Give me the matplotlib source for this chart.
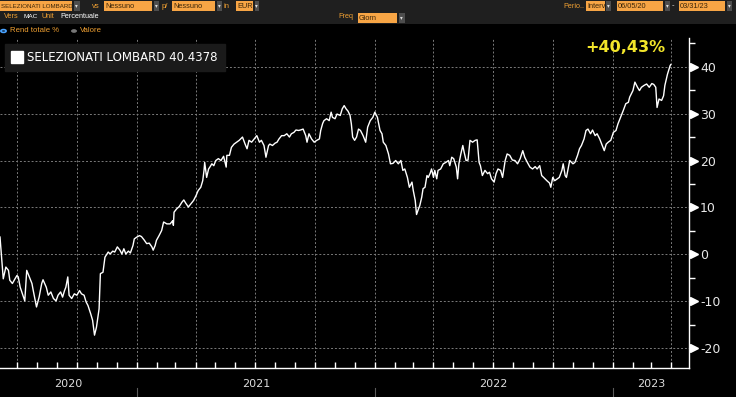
import numpy as np
import pandas as pd
import matplotlib
matplotlib.use("Agg")
import matplotlib.pyplot as plt
import matplotlib.dates as mdates
from matplotlib.patches import Rectangle, Circle
from matplotlib.lines import Line2D
from matplotlib.transforms import offset_copy

# serie: rendimento totale % SELEZIONATI LOMBARD, dal 06/05/20 al 03/31/23
start = pd.Timestamp("2020-06-05")
days = [0, 5, 9, 13, 15, 19, 23, 26, 28, 31, 35, 38, 41, 45, 49, 51, 54, 56, 60, 64,
        66, 71, 74, 78, 82, 86, 89, 93, 96, 99, 101, 104, 106, 110, 114, 118, 122, 125, 129, 132,
        135, 139, 142, 145, 148, 152, 154, 158,
        161, 166, 169, 173, 176, 180, 184, 187, 190, 193, 197, 200, 204, 206, 210, 214, 217, 221, 225, 229,
        233, 235, 238, 240, 244, 248, 251, 256, 261, 265, 266, 267, 271, 275, 279, 282, 285, 289, 293, 297,
        301, 304, 308, 311, 313, 314, 317, 320, 322, 325, 328, 331, 335, 339, 343, 347, 348, 352, 355, 359,
        363, 367,
        372, 376, 379, 382, 386, 390, 394, 398, 401, 405, 408, 412, 414, 418, 422, 425, 428, 432, 436, 440,
        444, 447, 451, 454, 458, 461, 465, 469, 471, 474, 478, 482, 486, 490, 492, 495, 497, 501, 505, 508,
        510, 514, 517, 522, 525, 528, 531, 534, 537, 539, 541, 544, 547, 550, 553, 557, 561, 564, 568, 572,
        575, 579,
        580, 583, 586, 588, 592, 596, 599, 603, 607, 611, 615, 618, 621, 625, 628, 632, 634, 637, 639, 642,
        644, 647, 649, 652, 655, 657, 660, 662, 665, 667, 670, 672, 676, 680, 684, 688, 690, 693, 696, 700,
        702, 704, 707, 710, 712, 715, 718, 721, 725, 729, 732, 735, 737, 740, 744, 748, 751, 754, 758, 761,
        764, 768, 771, 775, 778, 782, 786, 790, 794, 798,
        802, 805, 809, 813, 817, 821, 824, 828, 831, 834, 839, 843, 845, 848, 851, 855, 858, 862, 864, 867,
        869, 872, 874, 879, 882, 886, 889, 892, 896, 899, 902, 906, 909, 913, 916, 920, 923, 927, 930, 933,
        937, 941, 945, 948, 952, 956, 960, 964, 966, 971, 974, 978, 981, 984, 988, 992, 996, 1000, 1003, 1006,
        1008, 1011, 1015, 1018, 1020, 1024, 1028, 1029]
rend = [3.7, -5.2, -2.7, -3.4, -5.5, -6.2, -5.2, -4.5, -4.8, -7.0, -8.7, -9.9, -3.4, -4.8, -6.2, -7.7, -9.8, -11.2, -9.1, -6.2,
        -5.4, -7.0, -8.7, -8.0, -9.4, -9.9, -8.7, -8.0, -9.1, -7.7, -7.0, -4.8, -8.7, -9.4, -8.4, -8.7, -7.7, -8.4, -8.7, -10.1,
        -10.9, -12.6, -14.0, -17.2, -15.5, -11.6, -4.1, -3.8,
        -0.6, 0.5, 0.1, 0.7, 0.5, 1.6, 0.9, 0.1, 1.2, 0.1, 0.7, 0.3, 1.9, 3.3, 3.7, 4.0, 3.8, 3.1, 2.3, 2.4,
        1.6, 0.9, 1.9, 3.0, 4.0, 5.1, 6.9, 6.5, 6.5, 7.2, 6.2, 9.0, 9.7, 10.2, 11.1, 11.6, 10.9, 10.1, 10.8, 11.5,
        12.6, 13.6, 14.3, 15.7, 17.9, 19.6, 16.4, 18.2, 18.6, 19.3, 18.9, 20.0, 20.4, 20.0, 20.9, 18.6, 21.1, 21.1, 22.8, 23.5,
        23.9, 24.3,
        25.0, 23.5, 22.5, 24.3, 23.9, 24.6, 25.3, 23.9, 24.3, 23.2, 20.7, 23.2, 23.5, 23.2, 23.7, 23.9, 24.6, 25.3, 25.3, 25.7,
        25.0, 25.7, 26.0, 26.5, 26.4, 26.5, 26.7, 25.3, 23.9, 25.7, 24.6, 23.9, 24.3, 24.6, 26.4, 27.9, 28.5, 28.9, 28.5, 30.3,
        29.2, 28.9, 29.9, 29.6, 31.0, 31.7, 31.0, 30.5, 29.6, 27.8, 25.0, 24.3, 25.0, 26.7, 26.4, 25.3, 23.9, 27.1, 28.5, 29.2,
        30.3, 29.2,
        28.5, 26.4, 25.7, 23.9, 23.2, 21.4, 19.3, 19.4, 20.0, 19.3, 20.0, 17.9, 18.2, 16.4, 14.3, 15.4, 13.6, 11.5, 8.5, 9.7,
        10.4, 12.2, 14.0, 14.3, 16.8, 16.4, 17.3, 18.2, 16.4, 17.9, 16.1, 17.9, 18.2, 19.3, 19.6, 20.0, 18.9, 20.7, 20.4, 18.6,
        16.1, 19.3, 21.4, 23.2, 21.8, 20.0, 20.1, 24.3, 23.9, 24.3, 24.4, 19.6, 18.9, 16.8, 17.9, 17.2, 17.5, 16.1, 15.4, 17.2,
        18.2, 17.9, 16.4, 20.0, 21.4, 21.1, 20.1, 20.0, 19.3, 20.4,
        22.1, 20.7, 19.6, 18.6, 18.2, 18.7, 18.2, 18.9, 16.8, 16.4, 15.7, 15.2, 14.3, 16.4, 15.7, 16.1, 16.4, 17.9, 19.3, 16.8,
        16.4, 18.6, 20.0, 19.3, 19.6, 21.1, 22.5, 23.2, 24.6, 26.4, 26.7, 25.7, 26.5, 25.3, 25.7, 24.6, 23.5, 22.1, 23.5, 23.9,
        24.3, 26.0, 26.4, 27.8, 29.2, 30.6, 32.1, 32.4, 33.5, 34.9, 36.7, 35.6, 34.9, 35.6, 36.0, 36.3, 35.6, 36.4, 36.2, 35.6,
        31.3, 33.1, 32.8, 33.8, 36.0, 38.4, 40.2, 40.4378]

serie_nome = "SELEZIONATI LOMBARD"
ultimo = "40.4378"
etichetta = "+40,43%"
anni = [2020, 2021, 2022, 2023]
y_major = [-20, -10, 0, 10, 20, 30, 40]
y_minor = [-15, -5, 5, 15, 25, 35, 45]

dates = start + pd.to_timedelta(days, unit="D")
fine_asse = pd.Timestamp("2023-04-28")

W, H = 736, 397
ORANGE = "#f7a545"
AMBER = "#f0a032"
INK = "#3a2508"
NARROW = ["Liberation Sans Narrow", "Liberation Sans", "DejaVu Sans"]
plt.rcParams["axes.unicode_minus"] = False

fig = plt.figure(figsize=(W / 100, H / 100), dpi=100, facecolor="black")


def box(x0, y0, x1, y1, color):
    r = Rectangle((x0 / W, 1 - y1 / H), (x1 - x0) / W, (y1 - y0) / H,
                  transform=fig.transFigure, color=color, lw=0)
    fig.add_artist(r)
    return r


def scritta(x, y, s, color, size=5.6, clip=None, **kw):
    t = fig.text(x / W, 1 - y / H, s, color=color, fontsize=size, va="center", ha="left",
                 family=NARROW, **kw)
    if clip is not None:
        t.set_clip_path(clip)
    return t


def campo(x0, y0, x1, y1, s, size=5.3):
    r = box(x0, y0, x1, y1, ORANGE)
    scritta(x0 + 1, (y0 + y1) / 2 + 0.5, s, INK, size=size, clip=r)


def tendina(x0, y0, x1, y1):
    box(x0, y0, x1, y1, "#4d4d4d")
    scritta((x0 + x1) / 2 - 1.6, (y0 + y1) / 2, "▾", "#dddddd", size=4)


# barra comandi in alto
box(0, 0, W, 24, "#1f1f1f")
campo(0, 1, 72, 11, "SELEZIONATI LOMBARD", size=4.4)
tendina(74, 1, 80, 11)
scritta(92, 6, "vs", AMBER)
campo(104, 1, 152, 11, "Nessuno")
tendina(154, 1, 159, 11)
scritta(162, 6, "p/", AMBER)
campo(172, 1, 215, 11, "Nessuno")
tendina(217, 1, 222, 11)
scritta(224, 6, "in", AMBER)
campo(236, 1, 253, 11, "EUR")
tendina(255, 1, 259, 11)

scritta(563, 6, "Perio..", AMBER, size=5.2)
campo(586, 1, 605, 11, "Interv")
tendina(606, 1, 611, 11)
campo(617, 1, 663, 11, "06/05/20")
tendina(665, 1, 670, 11)
scritta(672, 6, "-", "#dddddd")
campo(679, 1, 725, 11, "03/31/23")
tendina(727, 1, 732, 11)

scritta(4, 17, "Vers", AMBER, size=5.2)
scritta(24, 17, "MAC", "white", size=4.6)
scritta(41, 17, "Unit", AMBER, size=5.2)
scritta(60, 17, "Percentuale", "white", size=5.2)
scritta(338, 17, "Freq", AMBER, size=5.2)
campo(358, 13, 397, 23, "Giorn")
tendina(399, 13, 405, 23)

fig.add_artist(Circle((3.5 / W, 1 - 31 / H), 2.6 / W, transform=fig.transFigure,
                      facecolor="black", edgecolor="#4aa3ff", lw=1.2))
scritta(10, 31, "Rend totale %", AMBER)
fig.add_artist(Circle((74 / W, 1 - 31 / H), 2.6 / W, transform=fig.transFigure,
                      facecolor="#777777", edgecolor="#777777", lw=0.5))
scritta(80, 31, "Valore", AMBER)

# grafico
ax = fig.add_axes([0, 1 - 368 / H, 689 / W, 330 / H])
ax.set_facecolor("black")
ax.plot(dates, rend, color="white", lw=1.0, solid_joinstyle="round")
ax.set_ylim(-24.2, 46.1)
ax.set_xlim(start, fine_asse)

for s in ["left", "top"]:
    ax.spines[s].set_visible(False)
for s in ["right", "bottom"]:
    ax.spines[s].set_color("white")
    ax.spines[s].set_linewidth(1.0)

ax.yaxis.tick_right()
ax.set_yticks(y_major)
ax.set_yticks(y_minor, minor=True)
ax.tick_params(axis="y", which="major", length=0, pad=8, labelsize=9, labelcolor="#e8e8e8")
ax.tick_params(axis="y", which="minor", length=4, width=1, color="white", direction="out")

ax.xaxis.set_major_locator(mdates.MonthLocator(bymonth=[1, 4, 7, 10]))
ax.xaxis.set_minor_locator(mdates.MonthLocator())
ax.tick_params(axis="x", which="both", direction="in", length=4, width=1, color="white",
               labelbottom=False)

ax.grid(True, which="major", color="#7a7a7a", lw=0.7, linestyle=(0, (2, 2)))

frecce = offset_copy(ax.get_yaxis_transform(), fig=fig, x=4.5, y=0, units="dots")
ax.plot([1] * len(y_major), y_major, ls="none", marker=">", ms=5.5, color="white",
        transform=frecce, clip_on=False)

# etichette anni sotto l'asse
xt = ax.get_xaxis_transform()
limiti = [start] + [pd.Timestamp(f"{a}-01-01") for a in anni[1:]] + [fine_asse]
for i, a in enumerate(anni):
    mid = limiti[i] + (limiti[i + 1] - limiti[i]) / 2
    ax.text(mid, -0.048, str(a), transform=xt, ha="center", va="center",
            color="#dcdcdc", fontsize=8)
for d in limiti[1:-1]:
    ax.plot([d, d], [-0.06, -0.09], transform=xt, color="#5a5a5a", lw=0.8, clip_on=False)

# legenda
proxy = Line2D([], [], marker="s", ms=8, color="white", ls="none")
leg = ax.legend([proxy], [f"{serie_nome} {ultimo}"], loc="upper left",
                bbox_to_anchor=(5 / 689, (368 - 44) / 330), borderaxespad=0,
                fontsize=8.5, labelcolor="white", facecolor="#1a1a1a", edgecolor="#1a1a1a",
                framealpha=1, fancybox=False, handlelength=0.8, handletextpad=0.5,
                borderpad=0.6)

fig.text(625 / W, 1 - 48 / H, etichetta, color="#f2e52a", fontsize=11.5,
         fontweight="bold", ha="center", va="center")

fig.savefig("out.png", dpi=100, facecolor="black")
